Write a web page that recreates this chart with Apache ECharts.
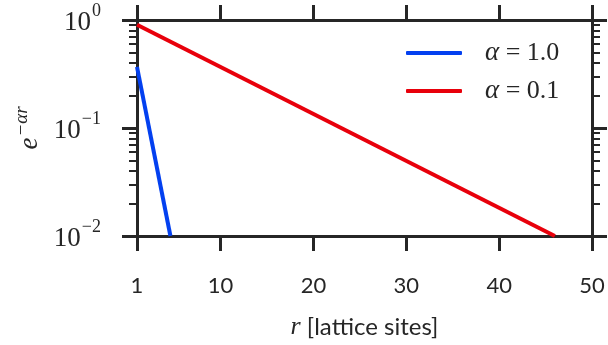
<!DOCTYPE html>
<html>
<head>
<meta charset="utf-8">
<script src="https://cdn.jsdelivr.net/npm/echarts@6/dist/echarts.min.js"></script>
<style>
  html, body { margin: 0; padding: 0; background: #fff; }
  #chart { width: 608px; height: 345px; }
</style>
</head>
<body>
<div id="chart"></div>
<script>
// values (straight lines on the log axis)
const seriesNames = ['α = 1.0', 'α = 0.1'];
const alpha10 = [[1, 0.368], [4.6, 0.01]];
const alpha01 = [[1, 0.905], [46, 0.01]];
const seriesColors = ['#0340f0', '#e8000b'];

const xTicks = [1, 10, 20, 30, 40, 50];
const yTicks = [0.01, 0.1, 1];
const yTickExp = ['−2', '−1', '0'];
const yMinorTicks = [0.02, 0.03, 0.04, 0.05, 0.06, 0.07, 0.08, 0.09,
                     0.2, 0.3, 0.4, 0.5, 0.6, 0.7, 0.8, 0.9];

const ink = '#262626';
const serif = 'Liberation Serif';
const sans = 'Lato';

const chart = echarts.init(document.getElementById('chart'));

function yLabel(v) {
  const i = yTicks.findIndex(t => Math.abs(t - v) / t < 1e-6);
  return i < 0 ? '' : '{b|10}{s|' + yTickExp[i] + '}';
}

function legendLabel(name) {
  const parts = name.split(' = ');
  return '{i|' + parts[0] + '} {t|= ' + parts[1] + '}';
}

function xAxis(pos, labels) {
  return {
    type: 'value', position: pos, min: 1, max: 50,
    axisLine: { show: true, onZero: false, lineStyle: { color: ink, width: 3 } },
    axisTick: { show: true, length: 15, customValues: xTicks, lineStyle: { color: ink, width: 3 } },
    axisLabel: { show: labels, customValues: xTicks, margin: 39, fontFamily: sans, fontSize: 22, color: ink },
    splitLine: { show: false },
    name: labels ? '{i|r} [lattice sites]' : '',
    nameLocation: 'middle', nameGap: 78,
    nameTextStyle: {
      fontFamily: sans, fontSize: 24, color: ink,
      rich: { i: { fontFamily: serif, fontStyle: 'italic', fontSize: 26, color: ink } }
    }
  };
}

function yAxis(pos, minor, labels) {
  return {
    type: 'log', logBase: 10, position: pos, min: 0.01, max: 1,
    axisLine: { show: !minor, onZero: false, lineStyle: { color: ink, width: 3 } },
    axisTick: {
      show: true, length: minor ? 8 : 15,
      customValues: minor ? yMinorTicks : yTicks,
      lineStyle: { color: ink, width: minor ? 2 : 3 }
    },
    axisLabel: {
      show: labels, customValues: yTicks, margin: 36, formatter: yLabel,
      rich: {
        b: { fontFamily: serif, fontSize: 27, color: ink, padding: [6, 0, 0, 0] },
        s: { fontFamily: serif, fontSize: 18, color: ink, padding: [0, 0, 18, 1] }
      }
    },
    splitLine: { show: false },
    name: labels ? '{b|e}{s|−αr}' : '',
    nameLocation: 'middle', nameGap: 82,
    nameTextStyle: {
      rich: {
        b: { fontFamily: serif, fontStyle: 'italic', fontSize: 27, color: ink },
        s: { fontFamily: serif, fontStyle: 'italic', fontSize: 19, color: ink, padding: [0, 0, 14, 1] }
      }
    }
  };
}

chart.setOption({
  animation: false,
  textStyle: { fontFamily: serif },
  grid: { left: 137, right: 16, top: 20, bottom: 105 },
  xAxis: [xAxis('bottom', true), xAxis('top', false)],
  yAxis: [yAxis('left', false, true), yAxis('left', true, false),
          yAxis('right', false, false), yAxis('right', true, false)],
  legend: {
    orient: 'vertical', left: 406, top: 39, padding: 0, itemGap: 10,
    icon: 'roundRect', itemWidth: 56, itemHeight: 4,
    formatter: legendLabel,
    textStyle: {
      fontFamily: serif, fontSize: 26, color: ink, lineHeight: 28, padding: [0, 0, 0, 18],
      rich: {
        i: { fontFamily: serif, fontStyle: 'italic', fontSize: 27, color: ink },
        t: { fontFamily: serif, fontSize: 26, color: ink }
      }
    },
    data: seriesNames
  },
  series: [
    { name: seriesNames[0], type: 'line', data: alpha10, showSymbol: false,
      lineStyle: { color: seriesColors[0], width: 4 }, itemStyle: { color: seriesColors[0] } },
    { name: seriesNames[1], type: 'line', data: alpha01, showSymbol: false,
      lineStyle: { color: seriesColors[1], width: 4 }, itemStyle: { color: seriesColors[1] } }
  ]
});
</script>
</body>
</html>
